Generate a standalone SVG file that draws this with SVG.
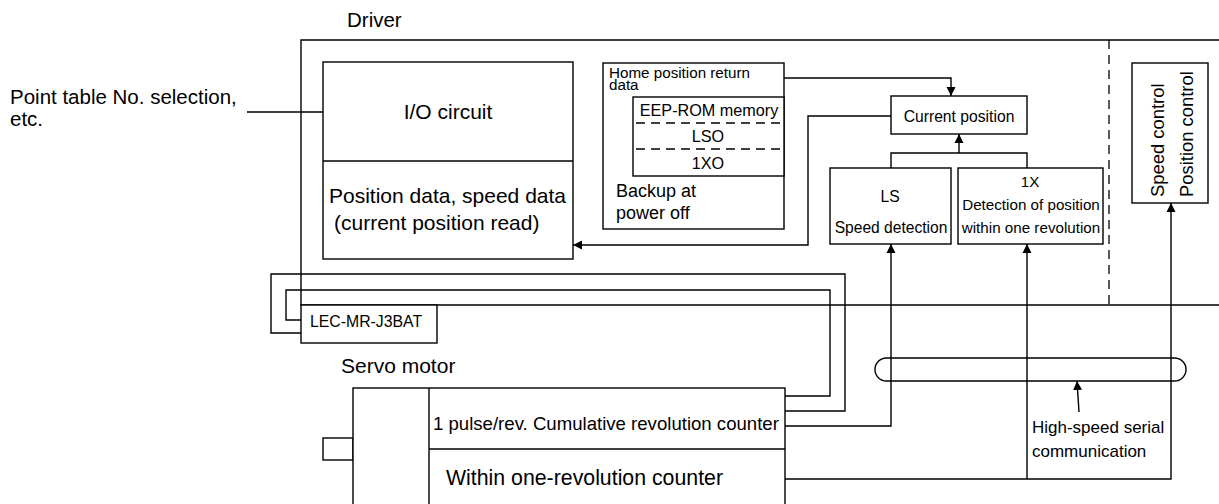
<svg xmlns="http://www.w3.org/2000/svg" width="1219" height="504" viewBox="0 0 1219 504">
<style>
text{font-family:"Liberation Sans",Arial,sans-serif;fill:#000}
.box{fill:#fff;stroke:#000;stroke-width:1.4}
.ln{fill:none;stroke:#000;stroke-width:1.4}
.dash{fill:none;stroke:#000;stroke-width:1.3;stroke-dasharray:9,6}
.m{text-anchor:middle}
</style>
<defs>
<marker id="ah" viewBox="0 0 10 10" markerWidth="9" markerHeight="10" refX="10" refY="5" orient="auto" markerUnits="userSpaceOnUse">
<path d="M0,0 L10,5 L0,10 z" fill="#000"/>
</marker>
</defs>
<rect width="1219" height="504" fill="#fff"/>

<g id="driver">
<path class="ln" d="M1219,40 H301 V305 H1219"/>
<line class="dash" x1="1109" y1="40" x2="1109" y2="305"/>
<text x="347" y="27" font-size="20.5">Driver</text>
</g>

<g id="point-table-label">
<text x="10" y="104" font-size="20.5">Point table No. selection,</text>
<text x="10" y="126" font-size="20.5">etc.</text>
</g>

<g id="io-circuit">
<rect class="box" x="323" y="62" width="250" height="197"/>
<line class="ln" x1="323" y1="161" x2="573" y2="161"/>
<text class="m" x="448" y="119" font-size="21">I/O circuit</text>
<text x="329" y="203" font-size="21">Position data, speed data</text>
<text x="334" y="230" font-size="21">(current position read)</text>
</g>

<g id="home-data">
<rect class="box" x="603" y="63" width="181" height="166"/>
<text x="609" y="78" font-size="15.2">Home position return</text>
<text x="609" y="90" font-size="15.2">data</text>
<text x="616" y="197" font-size="18">Backup at</text>
<text x="616" y="219" font-size="18">power off</text>
</g>

<g id="eep-rom">
<rect class="box" x="633" y="97" width="151" height="79"/>
<line class="dash" x1="636" y1="123" x2="782" y2="123"/>
<line class="dash" x1="636" y1="149" x2="782" y2="149"/>
<text class="m" x="709" y="116" font-size="16.2">EEP-ROM memory</text>
<text class="m" x="708" y="142" font-size="16.2">LSO</text>
<text class="m" x="708" y="169" font-size="16.2">1XO</text>
</g>

<g id="current-position">
<rect class="box" x="891" y="96" width="136" height="38"/>
<text class="m" x="959" y="122" font-size="15.7">Current position</text>
</g>

<g id="ls">
<rect class="box" x="830" y="168" width="121" height="76"/>
<text class="m" x="890" y="202" font-size="15.6">LS</text>
<text class="m" x="891" y="233" font-size="15.6">Speed detection</text>
</g>

<g id="one-x">
<rect class="box" x="958" y="168" width="145" height="76"/>
<text class="m" x="1030" y="187" font-size="15.2">1X</text>
<text class="m" x="1031" y="210" font-size="15.2">Detection of position</text>
<text class="m" x="1031" y="233" font-size="15.2">within one revolution</text>
</g>

<g id="speed-position-control">
<rect class="box" x="1132" y="63" width="76" height="140"/>
<text transform="translate(1164,197) rotate(-90)" font-size="18.4">Speed control</text>
<text transform="translate(1193,197) rotate(-90)" font-size="18.4">Position control</text>
</g>

<g id="battery">
<rect class="box" x="301" y="305" width="136" height="38"/>
<text x="310" y="327" font-size="15.8">LEC-MR-J3BAT</text>
</g>

<g id="servo-motor">
<text x="341" y="373" font-size="21">Servo motor</text>
<rect class="box" x="323" y="438" width="30" height="22"/>
<rect class="box" x="353" y="388" width="432" height="140"/>
<line class="ln" x1="429" y1="388" x2="429" y2="510" stroke-width="2"/>
<line class="ln" x1="429" y1="449" x2="785" y2="449" stroke-width="2"/>
<text x="433" y="430" font-size="18.6">1 pulse/rev. Cumulative revolution counter</text>
<text x="446" y="485" font-size="21.3">Within one-revolution counter</text>
</g>

<g id="serial-bus">
<rect x="875" y="358" width="311" height="23" rx="11.5" ry="11.5" fill="none" stroke="#000" stroke-width="1.4"/>
<text x="1032" y="433" font-size="17">High-speed serial</text>
<text x="1032" y="457" font-size="17">communication</text>
</g>

<g id="connectors">
<path class="ln" d="M247,112 H323"/>
<path class="ln" d="M784,78 H951 V96" marker-end="url(#ah)"/>
<path class="ln" d="M891,116 H808 V245 H573" marker-end="url(#ah)"/>
<path class="ln" d="M891,168 V153 H1027 V168"/>
<path class="ln" d="M959,153 V134" marker-end="url(#ah)"/>
<path class="ln" d="M785,426 H891 V244" marker-end="url(#ah)"/>
<path class="ln" d="M785,479 H1171 V203" marker-end="url(#ah)"/>
<path class="ln" d="M1027,479 V244" marker-end="url(#ah)"/>
<path class="ln" d="M301,333 H271 V274 H845 V411 H785"/>
<path class="ln" d="M301,320 H286 V290 H830 V396 H785"/>
<path class="ln" d="M1079,412 L1077,381" marker-end="url(#ah)"/>
</g>
</svg>
